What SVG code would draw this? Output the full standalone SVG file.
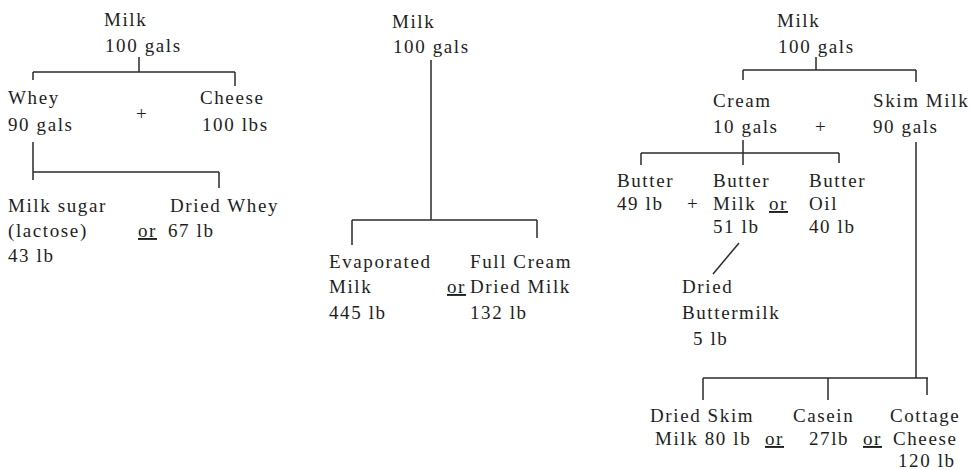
<svg xmlns="http://www.w3.org/2000/svg" width="970" height="470" viewBox="0 0 970 470">
<style>
text{font-family:"Liberation Serif","Times New Roman",serif;font-size:19px;fill:#1e1e1e;letter-spacing:1.6px}
.c line{stroke:#2a2a2a;stroke-width:1.5;fill:none}
.u{text-decoration:underline}
</style>
<rect width="970" height="470" fill="#fff"/>
<g class="c" id="connectors">
<!-- left tree -->
<line x1="139" y1="57" x2="139" y2="72"/>
<line x1="33" y1="72" x2="235" y2="72"/>
<line x1="33" y1="72" x2="33" y2="80"/>
<line x1="235" y1="72" x2="235" y2="86"/>
<line x1="33" y1="142" x2="33" y2="180"/>
<line x1="33" y1="172" x2="219" y2="172"/>
<line x1="219" y1="172" x2="219" y2="188"/>
<!-- middle tree -->
<line x1="431" y1="60" x2="431" y2="220"/>
<line x1="352" y1="220" x2="537" y2="220"/>
<line x1="352" y1="220" x2="352" y2="245"/>
<line x1="537" y1="220" x2="537" y2="238"/>
<!-- right tree -->
<line x1="816" y1="57" x2="816" y2="70"/>
<line x1="743" y1="70" x2="916" y2="70"/>
<line x1="743" y1="70" x2="743" y2="80"/>
<line x1="916" y1="70" x2="916" y2="82"/>
<line x1="743" y1="140" x2="743" y2="165"/>
<line x1="641" y1="153" x2="839" y2="153"/>
<line x1="641" y1="153" x2="641" y2="165"/>
<line x1="839" y1="153" x2="839" y2="163"/>
<line x1="739" y1="243" x2="713" y2="274"/>
<line x1="916" y1="142" x2="916" y2="378"/>
<line x1="703" y1="378" x2="928" y2="378"/>
<line x1="703" y1="378" x2="703" y2="400"/>
<line x1="828" y1="378" x2="828" y2="400"/>
<line x1="927" y1="378" x2="927" y2="395"/>
</g>
<g id="L-milk"><text x="104" y="26">Milk<tspan x="105" y="52">100 gals</tspan></text></g>
<g id="L-whey"><text x="8" y="104">Whey<tspan x="8" y="131">90 gals</tspan></text></g>
<g id="L-cheese"><text x="200" y="104">Cheese<tspan x="202" y="131">100 lbs</tspan></text></g>
<g id="L-lactose"><text x="8" y="212">Milk sugar<tspan x="8" y="237">(lactose)</tspan><tspan x="8" y="262">43 lb</tspan></text></g>
<g id="L-driedwhey"><text x="170" y="212">Dried Whey<tspan x="168" y="237">67 lb</tspan></text></g>
<g id="M-milk"><text x="392" y="28">Milk<tspan x="393" y="53">100 gals</tspan></text></g>
<g id="M-evap"><text x="329" y="268">Evaporated<tspan x="329" y="293">Milk</tspan><tspan x="329" y="319">445 lb</tspan></text></g>
<g id="M-fullcream"><text x="470" y="268">Full Cream<tspan x="470" y="293">Dried Milk</tspan><tspan x="470" y="319">132 lb</tspan></text></g>
<g id="R-milk"><text x="777" y="27">Milk<tspan x="778" y="53">100 gals</tspan></text></g>
<g id="R-cream"><text x="713" y="107">Cream<tspan x="713" y="133">10 gals</tspan></text></g>
<g id="R-skim"><text x="873" y="107">Skim Milk<tspan x="873" y="133">90 gals</tspan></text></g>
<g id="R-butter"><text x="617" y="187">Butter<tspan x="617" y="210">49 lb</tspan></text></g>
<g id="R-buttermilk"><text x="713" y="187">Butter<tspan x="713" y="210">Milk</tspan><tspan x="713" y="233">51 lb</tspan></text></g>
<g id="R-butteroil"><text x="809" y="187">Butter<tspan x="809" y="210">Oil</tspan><tspan x="809" y="233">40 lb</tspan></text></g>
<g id="R-driedbm"><text x="682" y="293">Dried<tspan x="682" y="319">Buttermilk</tspan><tspan x="693" y="345">5 lb</tspan></text></g>
<g id="R-driedskim"><text x="650" y="422">Dried Skim<tspan x="655" y="445">Milk 80 lb</tspan></text></g>
<g id="R-casein"><text x="793" y="422">Casein<tspan x="809" y="445">27lb</tspan></text></g>
<g id="R-cottage"><text x="890" y="422">Cottage<tspan x="893" y="445">Cheese</tspan><tspan x="898" y="467">120 lb</tspan></text></g>
<g id="operators">
<text x="136" y="120">+</text>
<text class="u" x="138" y="237">or</text>
<text class="u" x="447" y="293">or</text>
<text x="815" y="133">+</text>
<text x="687" y="210">+</text>
<text class="u" x="769" y="210">or</text>
<text class="u" x="765" y="445">or</text>
<text class="u" x="863" y="445">or</text>
</g>
</svg>
